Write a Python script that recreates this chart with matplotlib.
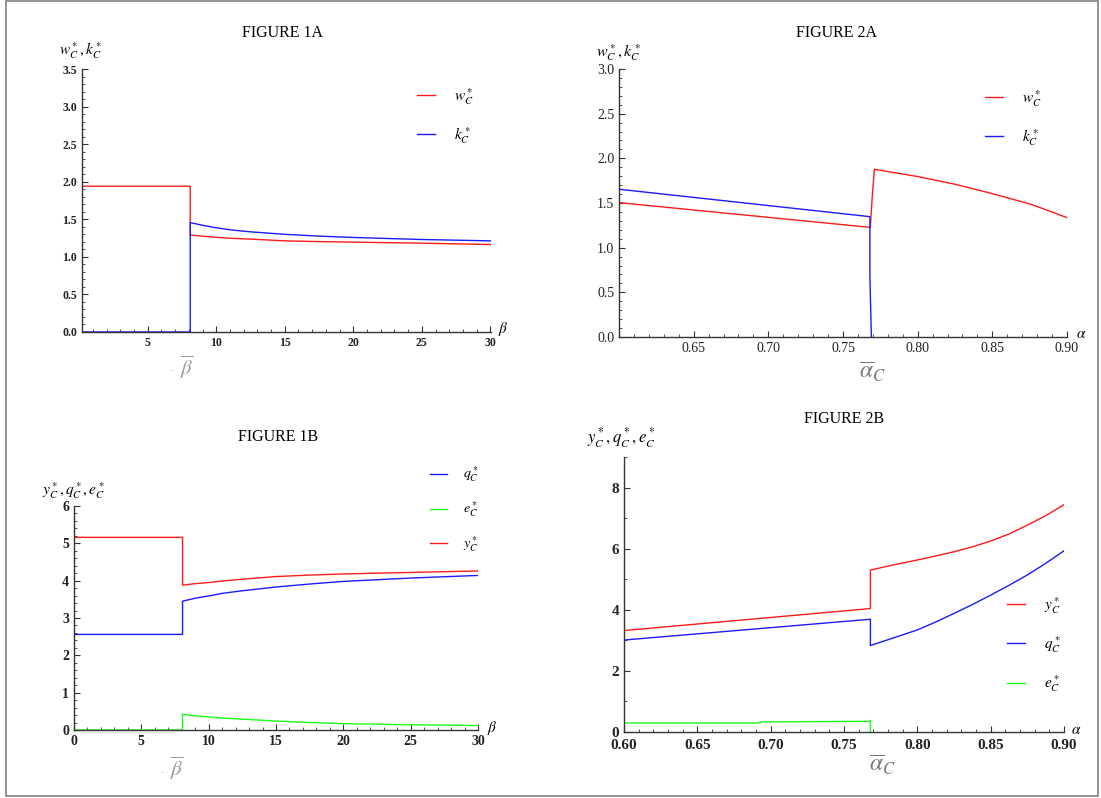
import matplotlib
matplotlib.use("Agg")
import matplotlib.pyplot as plt
from matplotlib.patches import Rectangle
from matplotlib.ticker import MultipleLocator

# === DATA ===
# Figure 1A: w*_C, k*_C against beta
beta_1a = [0.2, 8.1, 8.1, 9, 10, 11, 12.5, 15, 17.5, 20, 25, 30]
w_1a = [1.94, 1.94, 1.29, 1.275, 1.26, 1.248, 1.236, 1.213, 1.203, 1.196, 1.182, 1.164]
k_1a = [0.0, 0.0, 1.456, 1.42, 1.387, 1.36, 1.333, 1.30, 1.276, 1.258, 1.231, 1.213]

# Figure 1B: y*_C, q*_C, e*_C against beta
beta_1b = [0, 8.06, 8.06, 9, 10, 11, 12.5, 15, 17.5, 20, 25, 30]
y_1b = [5.16, 5.16, 3.88, 3.92, 3.95, 3.99, 4.04, 4.11, 4.15, 4.18, 4.22, 4.26]
q_1b = [2.56, 2.56, 3.45, 3.53, 3.59, 3.66, 3.73, 3.83, 3.91, 3.98, 4.07, 4.14]
e_1b = [0.0, 0.0, 0.42, 0.38, 0.35, 0.32, 0.29, 0.24, 0.20, 0.17, 0.14, 0.12]

# Figure 2A: w*_C, k*_C against alpha
alpha_w_2a = [0.6, 0.7683, 0.7695, 0.771, 0.78, 0.80, 0.825, 0.85, 0.875, 0.8875, 0.9]
w_2a = [1.504, 1.227, 1.55, 1.878, 1.852, 1.796, 1.71, 1.605, 1.49, 1.415, 1.336]
alpha_k_2a = [0.6, 0.768, 0.768, 0.769]
k_2a = [1.654, 1.347, 0.68, 0.0]

# Figure 2B: y*_C, q*_C, e*_C against alpha
alpha_yq_2b = [0.6, 0.768, 0.768, 0.78, 0.79, 0.80, 0.8125, 0.825, 0.8375,
               0.85, 0.8625, 0.875, 0.8875, 0.9]
y_2b = [3.32, 4.04, 5.30, 5.43, 5.53, 5.63, 5.76, 5.90, 6.06,
        6.25, 6.48, 6.77, 7.08, 7.44]
q_2b = [3.01, 3.69, 2.83, 3.02, 3.18, 3.34, 3.60, 3.88, 4.17,
        4.48, 4.80, 5.14, 5.52, 5.93]
alpha_e_2b = [0.6, 0.693, 0.693, 0.7675, 0.768, 0.768]
e_2b = [0.294, 0.294, 0.33, 0.35, 0.38, 0.0]

# === STYLE ===
W, H = 1101, 798
plt.rcParams["font.family"] = ["Liberation Serif", "DejaVu Serif"]
plt.rcParams["mathtext.fontset"] = "stix"
RED, BLUE, GREEN = "#ff1a1a", "#1a1aff", "#1aff1a"
AXIS = "#333333"

fig = plt.figure(figsize=(W / 100, H / 100), dpi=100)


def px(x, y):
    # pixel position (from top-left) -> figure fraction
    return x / W, 1 - y / H


def make_axes(left, top, right, bottom):
    ax = fig.add_axes([left / W, 1 - bottom / H, (right - left) / W, (bottom - top) / H])
    for s in ["top", "right"]:
        ax.spines[s].set_visible(False)
    for s in ["left", "bottom"]:
        ax.spines[s].set_color(AXIS)
        ax.spines[s].set_linewidth(1.0)
    ax.tick_params(which="both", direction="in", color=AXIS)
    ax.tick_params(which="major", length=4, width=0.8)
    ax.tick_params(which="minor", length=2, width=0.6)
    ax.patch.set_alpha(0)
    return ax


def style_ticks(ax, size, weight):
    for lab in ax.get_xticklabels() + ax.get_yticklabels():
        lab.set_fontsize(size)
        lab.set_fontweight(weight)
        lab.set_color("#222222")


def legend(ax, x, y, size, spacing):
    ax.legend(loc="upper left", bbox_to_anchor=px(x, y), bbox_transform=fig.transFigure,
              frameon=False, fontsize=size, handlelength=1.2, handletextpad=1.2,
              labelspacing=spacing, borderpad=0, borderaxespad=0)


# --- FIGURE 1A ---
ax = make_axes(82, 69, 491, 332)
ax.plot(beta_1a, w_1a, color=RED, lw=1, label=r"$w_C^*$")
ax.plot(beta_1a, k_1a, color=BLUE, lw=1, label=r"$k_C^*$")
ax.set_xlim(0.2, 30.05)
ax.set_ylim(0, 3.5)
ax.set_xticks([5, 10, 15, 20, 25, 30])
ax.xaxis.set_minor_locator(MultipleLocator(1))
ax.set_yticks([0, 0.5, 1.0, 1.5, 2.0, 2.5, 3.0, 3.5])
ax.yaxis.set_minor_locator(MultipleLocator(0.1))
ax.set_yticklabels([f"{v:.1f}" for v in ax.get_yticks()])
style_ticks(ax, 8.5, "bold")
legend(ax, 417, 86, 11, 1.2)
fig.text(*px(282, 33), "FIGURE 1A", ha="center", va="center", fontsize=11.5)
fig.text(*px(59, 51), r"$w_C^*, k_C^*$", ha="left", va="center", fontsize=11)
fig.text(*px(498, 329), r"$\beta$", ha="left", va="center", fontsize=11)
fig.text(*px(172, 373), ".", color="#6666ff", ha="center", va="bottom", fontsize=6)
fig.text(*px(187, 367), r"$\overline{\beta}$", color="#999999", ha="center", va="center", fontsize=15)

# --- FIGURE 2A ---
ax = make_axes(619, 69, 1067, 337)
ax.plot(alpha_w_2a, w_2a, color=RED, lw=1, label=r"$w_C^*$")
ax.plot(alpha_k_2a, k_2a, color=BLUE, lw=1, label=r"$k_C^*$")
ax.set_xlim(0.6, 0.9)
ax.set_ylim(0, 3.0)
ax.set_xticks([0.65, 0.70, 0.75, 0.80, 0.85, 0.90])
ax.set_xticklabels([f"{v:.2f}" for v in ax.get_xticks()])
ax.xaxis.set_minor_locator(MultipleLocator(0.01))
ax.set_yticks([0, 0.5, 1.0, 1.5, 2.0, 2.5, 3.0])
ax.set_yticklabels([f"{v:.1f}" for v in ax.get_yticks()])
ax.yaxis.set_minor_locator(MultipleLocator(0.1))
style_ticks(ax, 10, "normal")
legend(ax, 985, 88, 11, 1.2)
fig.text(*px(837, 33), "FIGURE 2A", ha="center", va="center", fontsize=11.5)
fig.text(*px(596, 53), r"$w_C^*, k_C^*$", ha="left", va="center", fontsize=11.5)
fig.text(*px(1076, 335), r"$\alpha$", ha="left", va="center", fontsize=11)
fig.text(*px(872, 372), r"$\overline{\alpha}_C$", color="#777777", ha="center", va="center", fontsize=17)

# --- FIGURE 1B ---
ax = make_axes(74, 506, 478, 730)
ax.plot(beta_1b, q_1b, color=BLUE, lw=1, label=r"$q_C^*$")
ax.plot(beta_1b, e_1b, color=GREEN, lw=1, label=r"$e_C^*$")
ax.plot(beta_1b, y_1b, color=RED, lw=1, label=r"$y_C^*$")
ax.set_xlim(0, 30)
ax.set_ylim(0, 6)
ax.set_xticks([0, 5, 10, 15, 20, 25, 30])
ax.xaxis.set_minor_locator(MultipleLocator(1))
ax.set_yticks([0, 1, 2, 3, 4, 5, 6])
ax.yaxis.set_minor_locator(MultipleLocator(0.2))
style_ticks(ax, 10, "bold")
legend(ax, 430, 465, 10, 1.1)
fig.text(*px(278, 437), "FIGURE 1B", ha="center", va="center", fontsize=11.5)
fig.text(*px(42, 491), r"$y_C^*, q_C^*, e_C^*$", ha="left", va="center", fontsize=11)
fig.text(*px(487, 728), r"$\beta$", ha="left", va="center", fontsize=11)
fig.text(*px(162, 775), ".", color="#6666ff", ha="center", va="bottom", fontsize=6)
fig.text(*px(177, 768), r"$\overline{\beta}$", color="#999999", ha="center", va="center", fontsize=15)

# --- FIGURE 2B ---
ax = make_axes(624, 457, 1064, 732)
ax.plot(alpha_yq_2b, y_2b, color=RED, lw=1, label=r"$y_C^*$")
ax.plot(alpha_yq_2b, q_2b, color=BLUE, lw=1, label=r"$q_C^*$")
ax.plot(alpha_e_2b, e_2b, color=GREEN, lw=1, label=r"$e_C^*$")
ax.set_xlim(0.6, 0.9)
ax.set_ylim(0, 9)
ax.set_xticks([0.60, 0.65, 0.70, 0.75, 0.80, 0.85, 0.90])
ax.set_xticklabels([f"{v:.2f}" for v in ax.get_xticks()])
ax.xaxis.set_minor_locator(MultipleLocator(0.01))
ax.set_yticks([0, 2, 4, 6, 8])
ax.yaxis.set_minor_locator(MultipleLocator(1))
ax.tick_params(axis="x", which="major", pad=5)
style_ticks(ax, 11, "bold")
legend(ax, 1007, 595, 11, 1.2)
fig.text(*px(844, 419), "FIGURE 2B", ha="center", va="center", fontsize=11.5)
fig.text(*px(587, 438), r"$y_C^*, q_C^*, e_C^*$", ha="left", va="center", fontsize=12)
fig.text(*px(1071, 731), r"$\alpha$", ha="left", va="center", fontsize=11)
fig.text(*px(882, 765), r"$\overline{\alpha}_C$", color="#777777", ha="center", va="center", fontsize=17)

# outer frame
fig.patches.append(Rectangle(px(6, 796), (1098 - 6) / W, (796 - 1) / H, transform=fig.transFigure,
                             fill=False, edgecolor="#808080", lw=1.2))

fig.savefig("out.png", dpi=100)
